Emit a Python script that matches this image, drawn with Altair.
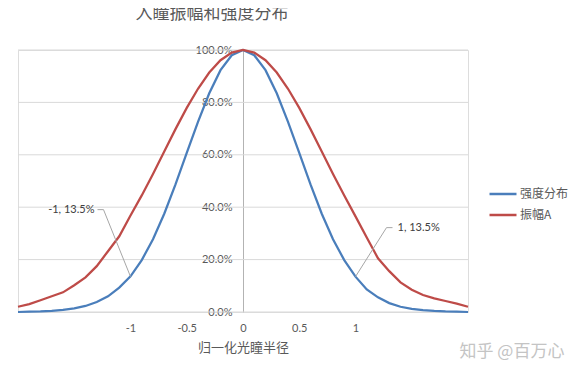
import altair as alt
import pandas as pd

# ---- data ----
x_vals = [-2.0, -1.9, -1.8, -1.7, -1.6, -1.5, -1.4, -1.3, -1.2, -1.1,
          -1.0, -0.9, -0.8, -0.7, -0.6, -0.5, -0.4, -0.3, -0.2, -0.1,
          0.0,
          0.1, 0.2, 0.3, 0.4, 0.5, 0.6, 0.7, 0.8, 0.9, 1.0,
          1.1, 1.2, 1.3, 1.4, 1.5, 1.6, 1.7, 1.8, 1.9, 2.0]

intensity = [0.000, 0.001, 0.002, 0.004, 0.008, 0.014, 0.023, 0.038, 0.060, 0.093,
             0.136, 0.198, 0.278, 0.375, 0.487, 0.607, 0.726, 0.835, 0.923, 0.980,
             1.000,
             0.980, 0.923, 0.835, 0.726, 0.607, 0.487, 0.375, 0.278, 0.198, 0.135,
             0.086, 0.056, 0.034, 0.020, 0.012, 0.007, 0.004, 0.002, 0.001, 0.000]

amplitude = [0.020, 0.030, 0.045, 0.060, 0.075, 0.102, 0.132, 0.175, 0.232, 0.289,
             0.368, 0.445, 0.527, 0.613, 0.698, 0.779, 0.852, 0.914, 0.961, 0.990,
             1.000,
             0.990, 0.961, 0.914, 0.852, 0.779, 0.698, 0.613, 0.527, 0.445, 0.365,
             0.284, 0.205, 0.156, 0.113, 0.085, 0.065, 0.052, 0.042, 0.032, 0.020]

series_names = ["强度分布", "振幅A"]
series_colors = ["#4a7ebb", "#be4b48"]
grid_vals = [0.0, 0.2, 0.4, 0.6, 0.8, 1.0]
x_tick_vals = [-1, -0.5, 0, 0.5, 1]
ann_x = [-1, 1]
ann_y = [0.135, 0.135]
ann_text = ["-1, 13.5%", "1, 13.5%"]
title_text = "入瞳振幅和强度分布"
x_title = "归一化光瞳半径"
watermark = "知乎 @百万心"

FONT = "Lato, 'Noto Sans CJK SC'"
CJK = "'Noto Sans CJK SC'"
TXT = "#595959"

n = len(x_vals)
df = pd.DataFrame({
    "x": x_vals + x_vals,
    "y": intensity + amplitude,
    "series": [series_names[0]] * n + [series_names[1]] * n,
})
grid_df = pd.DataFrame({"g": grid_vals, "x0": [-2.0] * len(grid_vals), "x1": [2.0] * len(grid_vals)})
ann_df = pd.DataFrame({"ax": ann_x, "ay": ann_y, "label": ann_text})
wm_df = pd.DataFrame({"t": [watermark]})

xscale = alt.Scale(domain=[-2, 2], nice=False, zero=False)
yscale = alt.Scale(domain=[0, 1], nice=False)

x_axis = alt.Axis(values=x_tick_vals, labelExpr="datum.value + ''",
                  domain=False, ticks=False, tickSize=0, grid=False,
                  labelPadding=10, labelFontSize=11, labelColor=TXT,
                  labelFont=FONT, title=x_title, titleFont=CJK,
                  titleFontSize=13, titleFontWeight="normal",
                  titleColor=TXT, titlePadding=8)
y_axis = alt.Axis(values=grid_vals, format=".1%", offset=-225,
                  grid=False, ticks=False, tickSize=0, labelPadding=11,
                  domainColor="#b3b3b3", labelFontSize=11,
                  labelColor=TXT, labelFont=FONT, title=None)

grid = alt.Chart(grid_df).mark_rule(color="#d9d9d9", strokeWidth=1).encode(
    x=alt.X("x0:Q", scale=xscale, axis=x_axis, title=x_title),
    x2="x1:Q",
    y=alt.Y("g:Q", scale=yscale, axis=y_axis, title=None),
)

lines = alt.Chart(df).mark_line(strokeWidth=2.25).encode(
    x=alt.X("x:Q", scale=xscale, axis=x_axis, title=x_title),
    y=alt.Y("y:Q", scale=yscale, axis=y_axis, title=None),
    color=alt.Color("series:N",
                    scale=alt.Scale(domain=series_names, range=series_colors),
                    sort=series_names,
                    legend=alt.Legend(title=None, orient="none", legendX=470,
                                      legendY=129, symbolType="stroke",
                                      symbolSize=729, symbolStrokeWidth=2.5,
                                      rowPadding=-8, labelFont=CJK,
                                      labelFontSize=12, labelColor=TXT,
                                      labelOffset=2, padding=0)),
    order="x:Q",
)

lead = dict(color="#a6a6a6", strokeWidth=1)
base_ann = alt.Chart(ann_df)

def seg(idx, xo, yo, x2o, y2o):
    return base_ann.transform_filter(alt.datum.ax == ann_x[idx]).mark_rule(
        xOffset=xo, yOffset=yo, x2Offset=x2o, y2Offset=y2o, **lead
    ).encode(
        x=alt.X("ax:Q", scale=xscale, axis=x_axis, title=x_title), x2="ax:Q",
        y=alt.Y("ay:Q", scale=yscale, axis=y_axis, title=None), y2="ay:Q",
    )

def lab(idx, dx, dy, align):
    return base_ann.transform_filter(alt.datum.ax == ann_x[idx]).mark_text(
        dx=dx, dy=dy, align=align, baseline="middle", font=FONT,
        fontSize=11, color="#404040"
    ).encode(
        x=alt.X("ax:Q", scale=xscale, axis=x_axis, title=x_title),
        y=alt.Y("ay:Q", scale=yscale, axis=y_axis, title=None),
        text="label:N",
    )

ann_layers = [
    seg(0, 0, 0, -27, -67), seg(0, -27, -67, -33, -67), lab(0, -36, -67, "right"),
    seg(1, 0, 0, 31, -49), seg(1, 31, -49, 37, -49), lab(1, 42, -49, "left"),
]

wm = alt.Chart(wm_df).mark_text(font=CJK, fontSize=17, color="#c4c4c4",
                                align="center", baseline="middle").encode(
    x=alt.value(494), y=alt.value(302), text="t:N")

chart = alt.layer(grid, lines, *ann_layers, wm).properties(
    width=450, height=262,
    autosize=alt.AutoSizeParams(type="none"),
    padding={"left": 10, "top": 42, "right": 107, "bottom": 50},
    title=alt.Title(title_text, font=CJK, fontSize=17, fontWeight="normal",
                    color=TXT, offset=21, dx=-31, anchor="middle"),
).configure_view(stroke=None).configure(background="white")

chart.save("out.html", embed_options={"renderer": "svg", "actions": False})
